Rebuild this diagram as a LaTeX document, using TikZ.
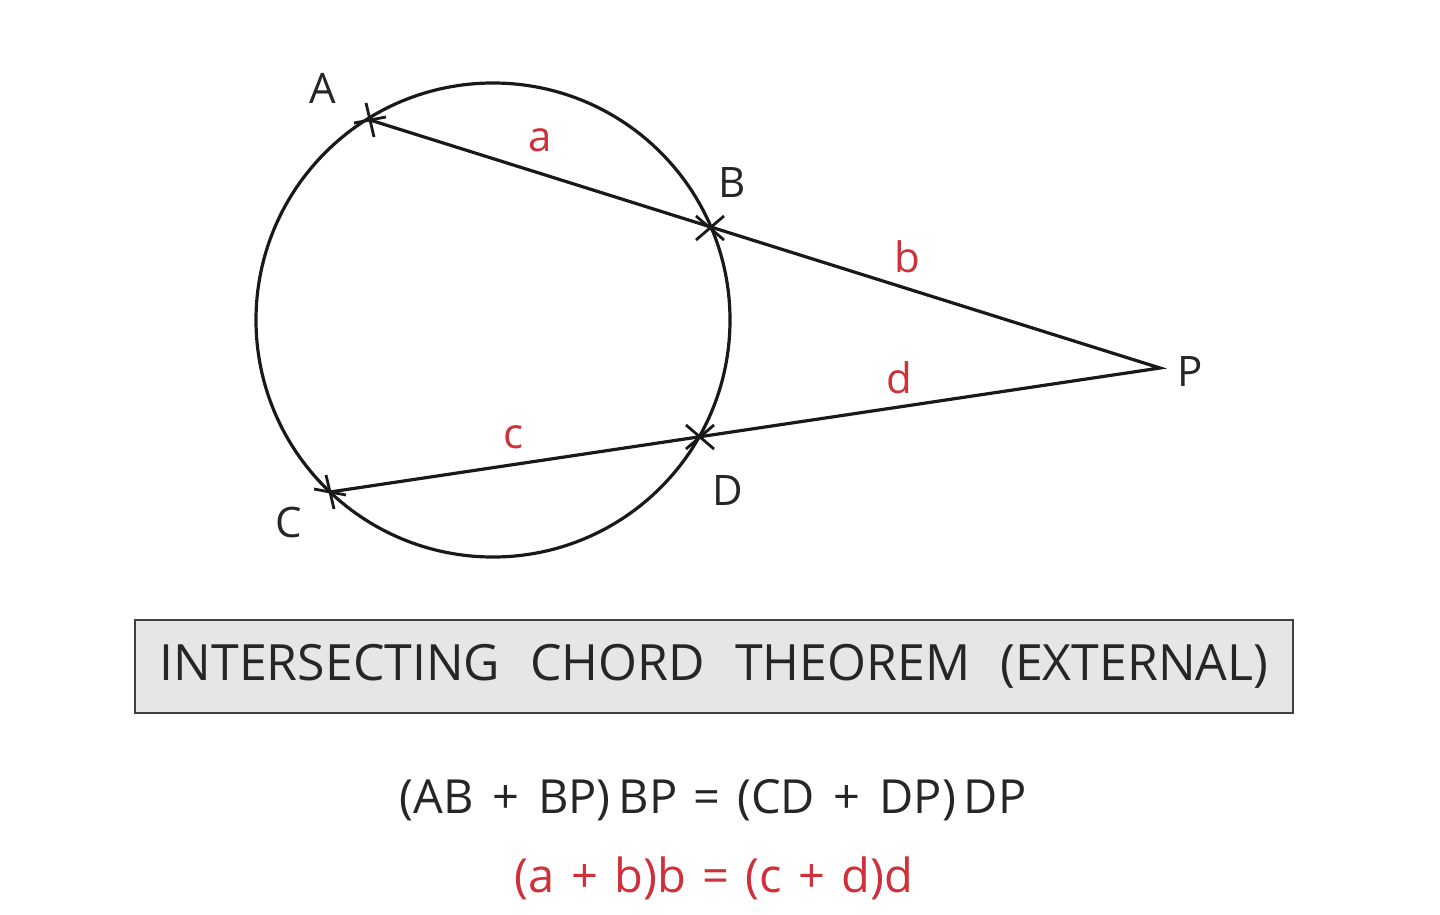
\documentclass[tikz,border=0pt]{standalone}
\usepackage{fontspec}
\usetikzlibrary{calc}
\setmainfont{Open Sans}
\definecolor{lblred}{HTML}{D0303A}
\definecolor{boxgray}{HTML}{E6E6E6}
\begin{document}
\begin{tikzpicture}[x=1pt,y=-1pt,
  geo/.style={line width=3.2pt,black!90},
  tick/.style={line width=2.8pt,black!90},
  ptlabel/.style={font=\fontsize{42}{46}\selectfont,text=black!85,inner sep=0pt},
  seglabel/.style={font=\fontsize{42}{46}\selectfont,text=lblred,inner sep=0pt},
  titlebox/.style={draw=black!75,line width=2.4pt,fill=boxgray,minimum width=1158pt,minimum height=93pt,inner sep=0pt,font=\fontsize{50}{54}\selectfont,text=black!85},
  eqn/.style={font=\fontsize{47}{50}\selectfont,inner sep=0pt}]
\useasboundingbox (0,0) rectangle (1440,915);
\coordinate (O) at (493,320);
\coordinate (A) at (370,120);
\coordinate (B) at (710,228);
\coordinate (C) at (330,492);
\coordinate (D) at (700,437);
\coordinate (P) at (1160,368);
\draw[geo] (O) circle (237);
\draw[geo,line join=miter] (A) -- (P) -- (C);
% cross marks
\draw[tick] ($(A)+(-4,-17)$) -- ($(A)+(4,17)$);
\draw[tick] ($(A)+(-16,3)$) -- ($(A)+(16,-3)$);
\draw[tick] ($(B)+(-14,-12)$) -- ($(B)+(14,12)$);
\draw[tick] ($(B)+(-14,12)$) -- ($(B)+(14,-12)$);
\draw[tick] ($(C)+(-4,-17)$) -- ($(C)+(4,17)$);
\draw[tick] ($(C)+(-16,-3)$) -- ($(C)+(16,3)$);
\draw[tick] ($(D)+(-14,-12)$) -- ($(D)+(14,12)$);
\draw[tick] ($(D)+(-14,12)$) -- ($(D)+(14,-12)$);
% labels
\node[ptlabel] (lA) at (323,88) {A};
\node[ptlabel] (lB) at (732,183) {B};
\node[ptlabel] (lC) at (289,522) {C};
\node[ptlabel] (lD) at (728,491) {D};
\node[ptlabel] (lP) at (1190,372) {P};
\node[seglabel] (la) at (540,140) {a};
\node[seglabel] (lb) at (907,257) {b};
\node[seglabel] (lc) at (513,437) {c};
\node[seglabel] (ld) at (899,378) {d};
\node[titlebox] (title) at (714,666.5) {INTERSECTING\hspace{0.6em}CHORD\hspace{0.6em}THEOREM\hspace{0.6em}(EXTERNAL)};
\node[eqn,text=black!85] (eq1) at (713,800) {(AB\hspace{0.4em}+\hspace{0.4em}BP)\,BP\hspace{0.35em}=\hspace{0.35em}(CD\hspace{0.4em}+\hspace{0.4em}DP)\,DP};
\node[eqn,text=lblred] (eq2) at (714,878) {(a\hspace{0.35em}+\hspace{0.35em}b)b\hspace{0.35em}=\hspace{0.35em}(c\hspace{0.35em}+\hspace{0.35em}d)d};
\end{tikzpicture}
\end{document}
